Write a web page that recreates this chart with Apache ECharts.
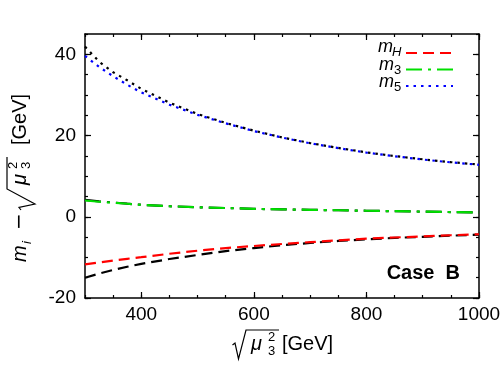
<!DOCTYPE html>
<html>
<head>
<meta charset="utf-8">
<script src="https://cdn.jsdelivr.net/npm/echarts@6/dist/echarts.min.js"></script>
<style>
  html, body { margin: 0; padding: 0; background: #fff; }
  #chart { width: 504px; height: 378px; }
</style>
</head>
<body>
<div id="chart"></div>
<script>
var chartDom = document.getElementById('chart');
var myChart = echarts.init(chartDom);

// sqrt(mu3^2) in GeV
var xs = [300, 325, 350, 375, 400, 450, 500, 550, 600, 650, 700, 750, 800, 850, 900, 950, 1000];
var mH = [-11.7, -11.25, -10.8, -10.35, -9.95, -9.1, -8.35, -7.7, -7.2, -6.7, -6.25, -5.8, -5.4, -5.1, -4.85, -4.55, -4.3];
var m3 = [4.0, 3.7, 3.45, 3.2, 2.95, 2.6, 2.35, 2.15, 1.95, 1.82, 1.7, 1.6, 1.48, 1.38, 1.27, 1.16, 1.06];
var m5 = [39.6, 36.9, 34.6, 32.5, 30.6, 27.6, 25.1, 23.0, 21.1, 19.5, 18.1, 16.9, 15.8, 14.9, 14.1, 13.4, 12.8];
// black comparison curves
var mHb = [-15.0, -14.0, -13.1, -12.3, -11.6, -10.4, -9.4, -8.45, -7.7, -7.0, -6.45, -5.95, -5.55, -5.2, -4.95, -4.65, -4.4];
var m3b = [4.15, 3.8, 3.5, 3.22, 2.96, 2.6, 2.35, 2.15, 1.95, 1.82, 1.7, 1.6, 1.48, 1.38, 1.27, 1.16, 1.06];
var m5b = [41.9, 38.2, 35.6, 33.6, 31.5, 28.1, 25.3, 23.1, 21.2, 19.55, 18.15, 16.95, 15.85, 14.95, 14.15, 13.45, 12.85];

var xTicks = [400, 600, 800, 1000];
var yTicks = [-20, 0, 20, 40];

function pairs(ys) {
    return xs.map(function (x, i) { return [x, ys[i]]; });
}

var font = 'Liberation Sans';

function majorX(pos, labels) {
    return {
        type: 'value', position: pos, min: 300, max: 1000,
        axisLine: { show: true, onZero: false, lineStyle: { color: '#000', width: 1.5 } },
        axisTick: { show: true, inside: true, length: 6, customValues: xTicks, lineStyle: { color: '#000', width: 1.2 } },
        axisLabel: { show: labels, customValues: xTicks, formatter: function (v) { return String(v); }, color: '#000', fontSize: 19, fontFamily: font, margin: 7 },
        splitLine: { show: false }
    };
}
function minorX(pos) {
    return {
        type: 'value', position: pos, min: 300, max: 1000, interval: 50,
        axisLine: { show: false, onZero: false },
        axisTick: { show: true, inside: true, length: 3, lineStyle: { color: '#000', width: 1.2 } },
        axisLabel: { show: false },
        splitLine: { show: false }
    };
}
function majorY(pos, labels) {
    return {
        type: 'value', position: pos, min: -20, max: 45,
        axisLine: { show: true, onZero: false, lineStyle: { color: '#000', width: 1.5 } },
        axisTick: { show: true, inside: true, length: 6, customValues: yTicks, lineStyle: { color: '#000', width: 1.2 } },
        axisLabel: { show: labels, customValues: yTicks, formatter: function (v) { return String(v); }, color: '#000', fontSize: 19, fontFamily: font, margin: 9 },
        splitLine: { show: false }
    };
}
function minorY(pos) {
    return {
        type: 'value', position: pos, min: -20, max: 45, interval: 5,
        axisLine: { show: false, onZero: false },
        axisTick: { show: true, inside: true, length: 3, lineStyle: { color: '#000', width: 1.2 } },
        axisLabel: { show: false },
        splitLine: { show: false }
    };
}

function txt(x, y, s, size, extra) {
    var st = { text: s, fill: '#000', fontSize: size, fontFamily: font, verticalAlign: 'middle', align: 'left' };
    for (var k in extra) st[k] = extra[k];
    return { type: 'text', x: x, y: y, style: st, silent: true };
}

var option = {
    animation: false,
    backgroundColor: '#fff',
    grid: { left: 85, right: 25, top: 34, bottom: 80 },
    xAxis: [majorX('bottom', true), minorX('bottom'), majorX('top', false), minorX('top')],
    yAxis: [majorY('left', true), minorY('left'), majorY('right', false), minorY('right')],
    legend: {
        data: ['mH', 'm3', 'm5'],
        orient: 'vertical',
        right: 45,
        top: 43,
        align: 'right',
        itemWidth: 47,
        itemHeight: 10,
        itemGap: 7.5,
        formatter: function () { return ''; },
        itemStyle: { opacity: 0 }
    },
    series: [
        { name: 'b5', type: 'line', data: pairs(m5b), symbol: 'none', lineStyle: { color: '#000', width: 2.2, type: [2.5, 5] } },
        { name: 'b3', type: 'line', data: pairs(m3b), symbol: 'none', lineStyle: { color: '#000', width: 2.2, type: [16, 6, 3, 6] } },
        { name: 'bH', type: 'line', data: pairs(mHb), symbol: 'none', lineStyle: { color: '#000', width: 2.2, type: [11, 6] } },
        { name: 'mH', type: 'line', data: pairs(mH), symbol: 'none', itemStyle: { color: '#ff0000' }, lineStyle: { color: '#ff0000', width: 2.2, type: [11, 6] } },
        { name: 'm3', type: 'line', data: pairs(m3), symbol: 'none', itemStyle: { color: '#00e000' }, lineStyle: { color: '#00e000', width: 2.2, type: [16, 6, 3, 6] } },
        { name: 'm5', type: 'line', data: pairs(m5), symbol: 'none', itemStyle: { color: '#0000ff' }, lineStyle: { color: '#0000ff', width: 2.2, type: [2.5, 5] } }
    ],
    graphic: [
        // legend labels
        txt(393, 47, 'm', 18, { fontStyle: 'italic', align: 'right' }),
        txt(392, 52.2, 'H', 13, { fontStyle: 'italic' }),
        txt(394, 65.4, 'm', 18, { fontStyle: 'italic', align: 'right' }),
        txt(394, 70.5, '3', 13),
        txt(394, 82, 'm', 18, { fontStyle: 'italic', align: 'right' }),
        txt(394, 87.5, '5', 13),
        // x axis title: sqrt(mu_3^2) [GeV]
        { type: 'polyline', silent: true, shape: { points: [[232.5, 345], [235, 343], [238.5, 359], [246, 330], [279, 330]] }, style: { stroke: '#000', lineWidth: 1.2, fill: null } },
        txt(251, 344.7, 'μ', 20, { fontStyle: 'italic' }),
        txt(268, 337.5, '2', 13),
        txt(268, 351.5, '3', 13),
        txt(282, 344.7, '[GeV]', 20),
        // y axis title: m_i - sqrt(mu_3^2) [GeV]
        {
            type: 'group', x: 27, y: 263, rotation: Math.PI / 2, silent: true,
            children: [
                txt(1, -7, 'm', 20, { fontStyle: 'italic' }),
                txt(19, 0, 'i', 13, { fontStyle: 'italic' }),
                txt(33, -7, '−', 20, { fontFamily: 'DejaVu Sans' }),
                { type: 'polyline', shape: { points: [[53, -6], [55.5, -8], [59, 8], [74, -20], [106, -20]] }, style: { stroke: '#000', lineWidth: 1.2, fill: null } },
                txt(78, -7, 'μ', 20, { fontStyle: 'italic' }),
                txt(94, -13.5, '2', 13),
                txt(94, -0.5, '3', 13),
                txt(118, -7, '[GeV]', 20)
            ]
        },
        txt(460, 273, 'Case  B', 20, { fontWeight: 'bold', align: 'right' })
    ]
};

option && myChart.setOption(option);
</script>
</body>
</html>
